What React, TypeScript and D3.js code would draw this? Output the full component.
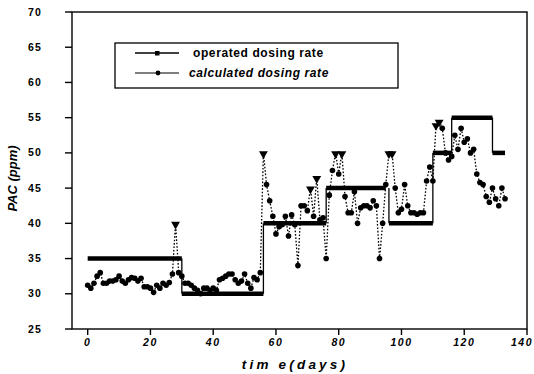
import React from 'react';
import * as d3 from 'd3';

// operated dosing rate: step segments (day start, day end, ppm)
const opStart = [0, 30, 56, 76, 96, 110, 116, 129];
const opEnd = [30, 56, 76, 95, 110, 116, 129, 133];
const opValue = [35, 30, 40, 45, 40, 50, 55, 50];

// calculated dosing rate, one value per day starting at day 0
const calcValues = [
  31.2, 30.8, 31.5, 32.5, 33.0, 31.5, 31.5, 31.8, 31.8, 32.0,
  32.5, 31.8, 31.5, 32.0, 32.3, 32.2, 31.8, 32.2, 31.0, 31.0,
  30.8, 30.2, 31.2, 30.8, 31.5, 31.2, 31.6, 32.8, 40.0, 33.0,
  32.5, 31.5, 31.5, 31.2, 30.8, 30.5, 30.0, 30.8, 30.8, 30.5,
  30.8, 30.5, 32.0, 32.2, 32.5, 32.8, 32.8, 32.0, 31.5, 31.8,
  32.8, 31.5, 30.8, 32.3, 32.0, 33.0, 50.0, 45.5, 43.2, 41.0,
  38.5, 39.5, 39.8, 41.0, 38.2, 41.2, 39.8, 34.0, 42.5, 42.5,
  41.8, 45.0, 41.0, 46.5, 40.5, 40.8, 35.0, 44.0, 47.5, 50.0,
  47.0, 50.0, 43.8, 41.5, 41.5, 44.5, 40.0, 42.2, 42.5, 42.5,
  42.2, 43.2, 42.5, 35.0, 40.0, 45.5, 50.0, 50.0, 45.0, 41.5,
  42.0, 45.5, 42.5, 41.5, 41.5, 41.3, 41.5, 41.5, 46.0, 48.0,
  46.0, 54.0, 54.5, 53.5, 50.0, 49.0, 49.5, 52.5, 50.5, 53.5,
  51.5, 52.0, 50.0, 50.5, 47.0, 45.8, 45.5, 43.8, 43.0, 45.0,
  43.5, 42.5, 45.0, 43.5,
];
// days where the marker is a down triangle (spike tops)
const triangleDays = [28, 56, 71, 73, 79, 81, 96, 97, 111, 112];

const xTicks = [0, 20, 40, 60, 80, 100, 120, 140];
const yTicks = [25, 30, 35, 40, 45, 50, 55, 60, 65, 70];
const legendLabels = ['operated dosing rate', 'calculated dosing rate'];

const W = 534;
const H = 374;
const left = 72;
const right = 527;
const top = 12;
const bottom = 329;
const font = 'Arial, "Liberation Sans", "DejaVu Sans", sans-serif';

export default function App() {
  const x = d3.scaleLinear().domain([-5, 140]).range([left, right]);
  const y = d3.scaleLinear().domain([25, 70]).range([bottom, top]);

  const calcLine = d3
    .line<number>()
    .x((_, i) => x(i))
    .y((d) => y(d));
  const tri = d3.symbol(d3.symbolTriangle, 34)() || '';

  return (
    <svg
      width={W}
      height={H}
      style={{ position: 'absolute', left: 0, top: 0, background: '#fff' }}
      fontFamily={font}
    >
      <rect x={0} y={0} width={W} height={H} fill="#fff" />

      {/* frame */}
      <rect x={left} y={top} width={right - left} height={bottom - top} fill="none" stroke="#000" strokeWidth={1.4} />

      {/* y axis */}
      {yTicks.map((t) => (
        <g key={'y' + t}>
          <line x1={left - 7} x2={left} y1={y(t)} y2={y(t)} stroke="#000" strokeWidth={1.4} />
          <text x={42} y={y(t) + 3.5} textAnchor="end" fontSize={10.5} fontWeight="bold" letterSpacing={1.2}>
            {t}
          </text>
        </g>
      ))}

      {/* x axis */}
      {xTicks.map((t, i) => (
        <g key={'x' + t}>
          <line x1={x(t)} x2={x(t)} y1={bottom} y2={bottom + 6} stroke="#000" strokeWidth={1.4} />
          <text
            x={i === xTicks.length - 1 ? W - 1 : x(t)}
            y={346}
            textAnchor={i === xTicks.length - 1 ? 'end' : 'middle'}
            fontSize={10.5}
            fontWeight="bold"
            fontStyle="italic"
            letterSpacing={1.5}
          >
            {t}
          </text>
        </g>
      ))}

      {/* axis titles */}
      <text x={295} y={369} textAnchor="middle" fontSize={13.5} fontWeight="bold" fontStyle="italic" letterSpacing={3.2}>
        tim e(days)
      </text>
      <text
        transform={`translate(17, ${(top + bottom) / 2 + 8}) rotate(-90)`}
        textAnchor="middle"
        fontSize={13}
        fontWeight="bold"
        fontStyle="italic"
      >
        PAC (ppm)
      </text>

      {/* calculated dosing rate */}
      <path d={calcLine(calcValues) || ''} fill="none" stroke="#000" strokeWidth={1.3} strokeDasharray="1.6 1.8" />
      {calcValues.map((v, i) =>
        triangleDays.includes(i) ? (
          <path key={'c' + i} d={tri} transform={`translate(${x(i)},${y(v) + 1}) rotate(180)`} fill="#000" />
        ) : (
          <circle key={'c' + i} cx={x(i)} cy={y(v)} r={2.8} fill="#000" />
        )
      )}

      {/* operated dosing rate */}
      {opValue.map((v, i) => (
        <g key={'o' + i}>
          <line x1={x(opStart[i])} x2={x(opEnd[i])} y1={y(v)} y2={y(v)} stroke="#000" strokeWidth={4.5} />
          {i > 0 && (
            <line
              x1={x(opStart[i])}
              x2={x(opStart[i])}
              y1={y(opValue[i - 1])}
              y2={y(v)}
              stroke="#000"
              strokeWidth={1.3}
            />
          )}
        </g>
      ))}

      {/* legend */}
      <rect x={115} y={43} width={283} height={45} fill="#fff" stroke="#000" strokeWidth={1.3} />
      <line x1={135} x2={179} y1={53} y2={53} stroke="#000" strokeWidth={1.5} />
      <rect x={155} y={51} width={4.5} height={4.5} fill="#000" />
      <text x={193} y={57} fontSize={12} fontWeight="bold" letterSpacing={0.6}>
        {legendLabels[0]}
      </text>
      <line x1={135} x2={179} y1={73} y2={73} stroke="#000" strokeWidth={1.1} />
      <circle cx={158} cy={73} r={2.4} fill="#000" />
      <text x={189} y={77} fontSize={12} fontWeight="bold" fontStyle="italic" letterSpacing={0.6}>
        {legendLabels[1]}
      </text>
    </svg>
  );
}
